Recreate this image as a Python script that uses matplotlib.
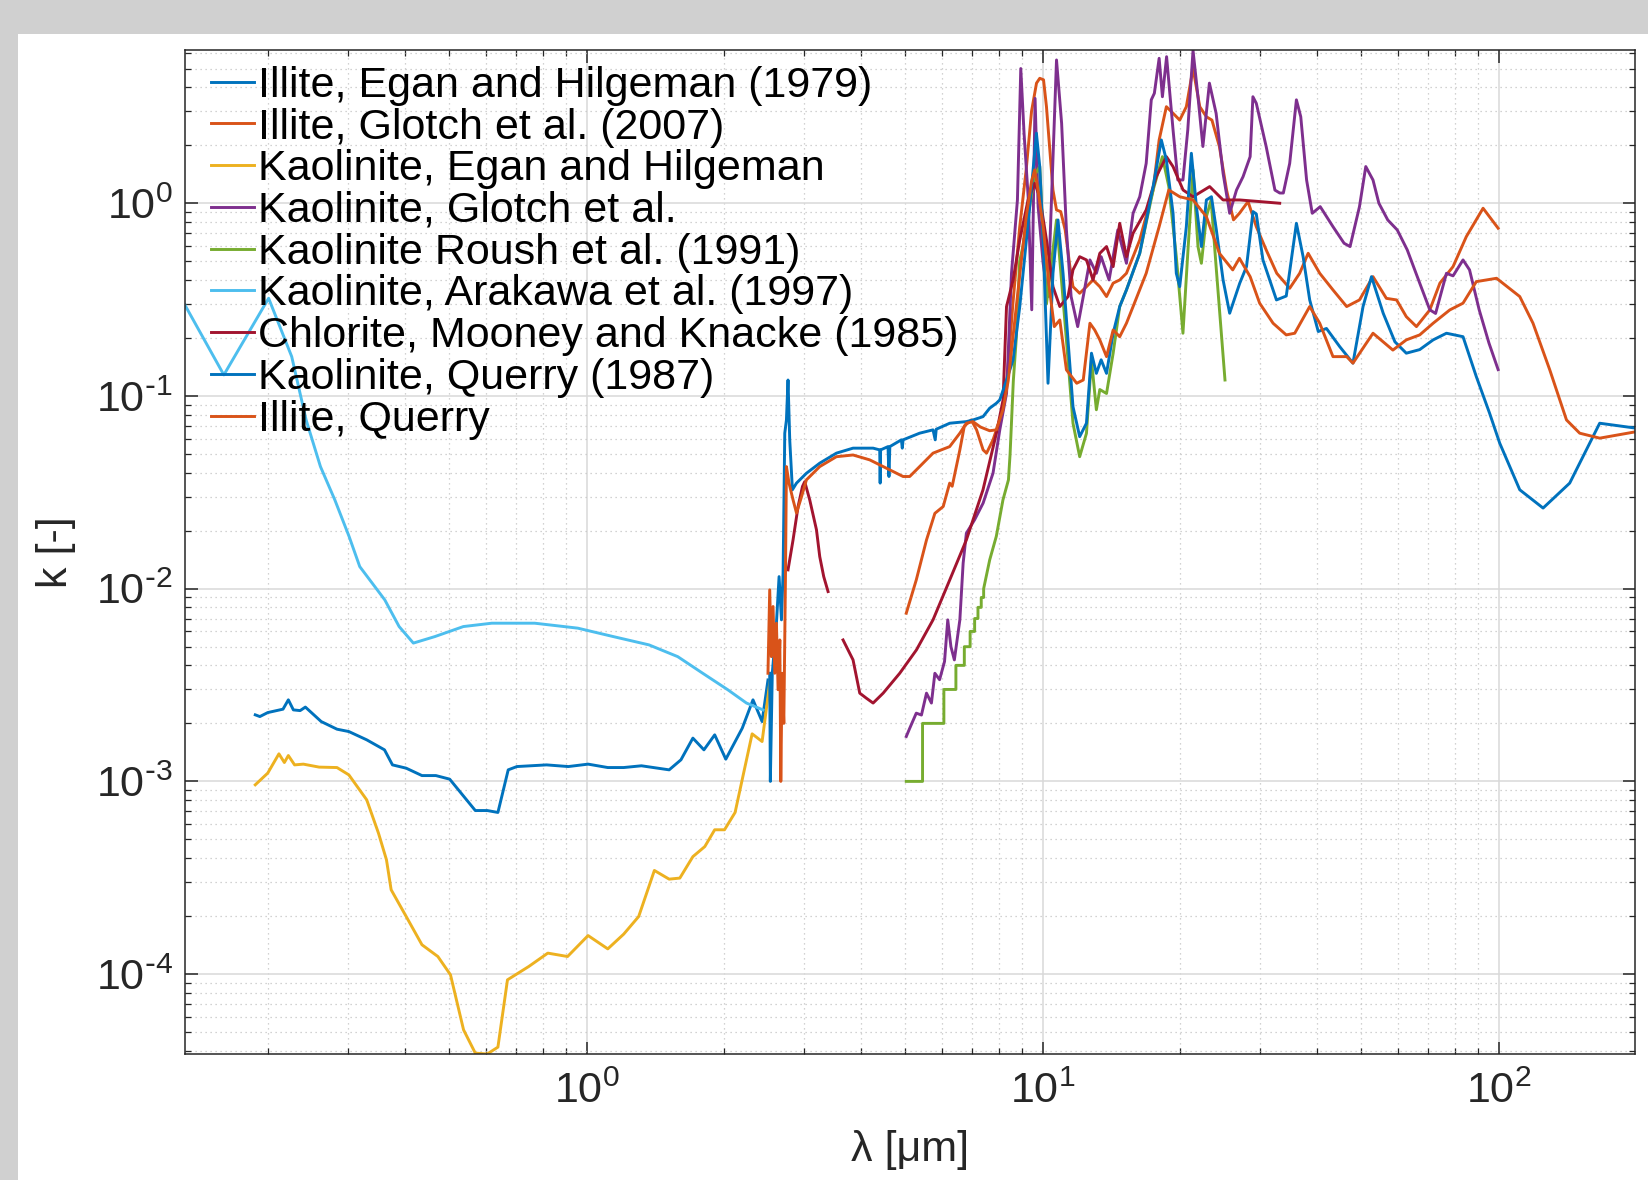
import matplotlib
matplotlib.use("Agg")
import matplotlib.pyplot as plt
import numpy as np
from matplotlib.patches import Rectangle
from matplotlib.ticker import LogLocator, NullFormatter, FuncFormatter

# (wavelength [um], k) pairs for each data set
illite_egan = [(0.1875, 2.215e-3), (0.1919, 2.17e-3), (0.1997, 2.276e-3), (0.2157, 2.37e-3),
               (0.2216, 2.65e-3), (0.2273, 2.35e-3), (0.2352, 2.33e-3), (0.2415, 2.43e-3),
               (0.2616, 2.044e-3), (0.2833, 1.866e-3), (0.3008, 1.814e-3), (0.3292, 1.643e-3),
               (0.3601, 1.458e-3), (0.3749, 1.218e-3), (0.4018, 1.171e-3), (0.4351, 1.072e-3),
               (0.4668, 1.072e-3), (0.5005, 1.027e-3), (0.5696, 7.06e-4), (0.605, 7.06e-4),
               (0.6385, 6.9e-4), (0.6726, 1.148e-3), (0.7028, 1.194e-3), (0.8162, 1.218e-3),
               (0.911, 1.194e-3), (1.0067, 1.229e-3), (1.112, 1.18e-3), (1.205, 1.18e-3),
               (1.318, 1.205e-3), (1.516, 1.148e-3), (1.609, 1.294e-3), (1.709, 1.677e-3),
               (1.807, 1.458e-3), (1.908, 1.744e-3), (2.018, 1.304e-3), (2.193, 1.889e-3),
               (2.315, 2.65e-3), (2.424, 2.044e-3), (2.497, 3.36e-3)]

illite_glotch = [(5.02, 0.00746), (5.28, 0.0111), (5.56, 0.0179), (5.80, 0.0246), (6.05, 0.0267),
                 (6.25, 0.0353), (6.33, 0.034), (6.58, 0.0525), (6.73, 0.0697), (6.97, 0.0751),
                 (7.16, 0.0667), (7.40, 0.0525), (7.53, 0.0505), (7.78, 0.0592), (8.05, 0.0751),
                 (8.33, 0.112), (8.6, 0.3), (8.9, 0.75), (9.2, 1.5), (9.45, 3.0), (9.69, 4.2),
                 (9.85, 4.45), (10.04, 4.37), (10.19, 3.17), (10.35, 1.97), (10.53, 1.17),
                 (10.72, 0.923), (10.95, 0.905), (11.2, 0.727), (11.47, 0.469), (11.65, 0.369),
                 (12.05, 0.341), (12.47, 0.369), (12.89, 0.40), (13.34, 0.369), (13.8, 0.328),
                 (14.27, 0.385), (14.75, 0.40), (15.26, 0.433), (15.78, 0.528), (16.32, 0.645),
                 (17.46, 1.17), (18.0, 2.13), (18.67, 3.17), (19.31, 2.93), (19.97, 2.70),
                 (20.65, 3.17), (21.36, 5.01), (22.1, 3.17), (22.85, 2.81), (23.5, 2.70),
                 (24.4, 1.97), (25.3, 1.17), (26.2, 0.82), (27.0, 0.887), (28.2, 1.02),
                 (29.4, 0.756), (30.9, 0.573), (32.6, 0.433), (34.8, 0.362), (36.6, 0.433),
                 (38.2, 0.55), (40.5, 0.433), (43.3, 0.355), (46.4, 0.291), (49.5, 0.315),
                 (53.0, 0.416), (56.7, 0.321), (59.7, 0.315), (62.7, 0.258), (66.0, 0.229),
                 (70.6, 0.2795), (74.3, 0.385), (79.4, 0.469), (84.9, 0.671), (92.4, 0.942),
                 (99.7, 0.742)]

kaolinite_egan = [(0.1875, 9.6e-4), (0.1997, 1.104e-3), (0.2113, 1.39e-3), (0.2172, 1.253e-3),
                  (0.2216, 1.362e-3), (0.2287, 1.218e-3), (0.2390, 1.229e-3), (0.2589, 1.186e-3),
                  (0.2833, 1.18e-3), (0.3008, 1.081e-3), (0.3292, 8.02e-4), (0.3493, 5.39e-4),
                  (0.3637, 3.92e-4), (0.3724, 2.74e-4), (0.4018, 1.99e-4), (0.4351, 1.42e-4),
                  (0.4715, 1.234e-4), (0.5025, 9.92e-5), (0.5368, 5.14e-5), (0.5696, 3.89e-5),
                  (0.605, 3.85e-5), (0.6385, 4.18e-5), (0.6701, 9.34e-5), (0.746, 1.095e-4),
                  (0.8214, 1.285e-4), (0.9076, 1.234e-4), (1.0067, 1.585e-4), (1.112, 1.352e-4),
                  (1.205, 1.612e-4), (1.2998, 1.99e-4), (1.407, 3.45e-4), (1.516, 3.11e-4),
                  (1.600, 3.15e-4), (1.709, 4.07e-4), (1.815, 4.59e-4), (1.908, 5.61e-4),
                  (2.005, 5.61e-4), (2.115, 6.9e-4), (2.305, 1.765e-3), (2.424, 1.61e-3),
                  (2.53, 3.5e-3)]

kaolinite_glotch = [(5.02, 0.00171), (5.11, 0.00189), (5.28, 0.00226), (5.42, 0.00221),
                    (5.56, 0.00287), (5.70, 0.00255), (5.80, 0.00364), (5.94, 0.00337),
                    (6.09, 0.00419), (6.19, 0.00689), (6.29, 0.005), (6.40, 0.00427),
                    (6.58, 0.00689), (6.69, 0.01356), (6.80, 0.0194), (7.09, 0.0228),
                    (7.40, 0.0278), (7.78, 0.0398), (8.05, 0.0667), (8.33, 0.1033), (8.54, 0.433),
                    (8.80, 1.04), (8.95, 5.0), (9.10, 2.3), (9.29, 1.08), (9.46, 0.28), (9.62, 3.5),
                    (9.77, 0.96), (10.02, 0.488), (10.27, 0.328), (10.72, 5.54), (11.0, 2.6),
                    (11.27, 0.727), (11.54, 0.328), (11.93, 0.229), (12.27, 0.328), (12.69, 0.508),
                    (13.11, 0.433), (13.43, 0.528), (13.98, 0.40), (14.61, 0.727), (15.26, 0.488),
                    (15.78, 0.887), (16.32, 1.081), (16.86, 1.61), (17.3, 3.44), (17.57, 3.72),
                    (18.0, 5.65), (18.3, 3.57), (18.69, 5.76), (19.31, 2.4), (19.78, 1.32),
                    (20.3, 1.32), (20.8, 2.4), (21.36, 6.2), (21.9, 3.57), (22.45, 1.97),
                    (23.2, 4.2), (24.0, 2.93), (24.86, 1.43), (25.7, 0.887), (26.6, 1.17),
                    (27.5, 1.374), (28.5, 1.745), (28.9, 3.57), (29.4, 3.3), (30.9, 1.97),
                    (32.3, 1.17), (33.1, 1.13), (33.7, 1.13), (34.8, 1.61), (36.0, 3.44),
                    (36.8, 2.81), (37.9, 1.32), (39.0, 0.887), (40.6, 0.96), (43.3, 0.756),
                    (45.8, 0.62), (47.2, 0.596), (49.5, 0.96), (51.1, 1.55), (53.0, 1.32),
                    (54.6, 1.0), (57.1, 0.819), (59.9, 0.727), (63.0, 0.573), (67.1, 0.385),
                    (70.6, 0.28), (72.7, 0.268), (76.8, 0.433), (79.4, 0.42), (83.5, 0.508),
                    (86.3, 0.451), (90.6, 0.28), (95.2, 0.188), (99.7, 0.137)]

kaolinite_roush = [(5.02, 0.001), (5.45, 0.001), (5.45, 0.002), (6.07, 0.002), (6.07, 0.003),
                   (6.45, 0.003), (6.45, 0.004), (6.73, 0.004), (6.73, 0.005), (6.93, 0.005),
                   (6.93, 0.006), (7.09, 0.006), (7.09, 0.007), (7.21, 0.007), (7.21, 0.008),
                   (7.33, 0.008), (7.33, 0.009), (7.42, 0.009), (7.42, 0.01), (7.65, 0.0141),
                   (7.91, 0.0187), (8.18, 0.0289), (8.41, 0.0367), (8.48, 0.05), (8.62, 0.12),
                   (8.75, 0.2), (8.90, 0.5), (9.05, 0.6), (9.36, 0.96), (9.6, 1.4), (9.85, 1.55),
                   (10.19, 0.3), (10.72, 0.819), (11.27, 0.195), (11.65, 0.0722), (12.05, 0.0484),
                   (12.47, 0.064), (12.79, 0.154), (13.11, 0.0848), (13.34, 0.108), (13.8, 0.103),
                   (14.27, 0.1667), (14.75, 0.291), (15.26, 0.355), (16.32, 0.55), (17.46, 1.17),
                   (18.3, 1.745), (18.9, 1.22), (19.63, 0.528), (20.3, 0.2116), (20.8, 0.55),
                   (21.36, 1.49), (21.9, 0.596), (22.28, 0.488), (22.85, 0.852), (23.4, 1.04),
                   (24.0, 0.469), (25.1, 0.121)]

kaolinite_arakawa = [(0.1314, 0.297), (0.160, 0.1286), (0.2006, 0.3214), (0.2254, 0.160),
                     (0.2424, 0.0751), (0.2606, 0.043), (0.2802, 0.0289), (0.3012, 0.01864),
                     (0.3178, 0.01302), (0.3606, 0.00875), (0.3877, 0.00636), (0.4166, 0.00522),
                     (0.4642, 0.00564), (0.5363, 0.00636), (0.619, 0.00662), (0.769, 0.00662),
                     (0.9556, 0.00624), (1.144, 0.00564), (1.369, 0.00511), (1.583, 0.00444),
                     (1.796, 0.00364), (2.038, 0.00299), (2.240, 0.00255), (2.435, 0.00235)]

chlorite_mooney = [(2.763, 0.01252), (2.834, 0.0179), (2.907, 0.0267), (2.972, 0.0339),
                   (3.006, 0.0359), (3.083, 0.0289), (3.19, 0.0202), (3.243, 0.01467),
                   (3.309, 0.01155), (3.382, 0.00966), (np.nan, np.nan),
                   (3.648, 0.00542), (3.837, 0.00427), (3.969, 0.00287), (4.106, 0.0027),
                   (4.246, 0.00255), (4.467, 0.00287), (4.857, 0.00364), (5.284, 0.00481),
                   (5.746, 0.00689), (6.252, 0.0111), (6.8, 0.0179), (7.396, 0.0326),
                   (7.914, 0.0641), (8.185, 0.0954), (8.328, 0.2907), (8.61, 0.40), (8.904, 0.645),
                   (9.286, 1.04), (9.6, 1.27), (9.85, 1.08), (10.19, 0.645), (10.53, 0.369),
                   (10.9, 0.291), (11.36, 0.328), (11.65, 0.451), (12.05, 0.528), (12.47, 0.508),
                   (12.89, 0.40), (13.34, 0.55), (13.8, 0.596), (14.27, 0.469), (14.75, 0.787),
                   (15.26, 0.528), (15.78, 0.699), (16.86, 0.923), (17.74, 1.374), (18.67, 1.745),
                   (19.31, 1.549), (20.31, 1.172), (21.36, 1.081), (23.23, 1.22), (24.86, 1.04),
                   (27.04, 1.04), (29.92, 1.02), (33.09, 1.0)]

kaolinite_querry = [(2.519, 0.00364), (2.527, 0.001), (2.552, 0.00364), (2.606, 0.00662),
                    (2.641, 0.01155), (2.673, 0.00689), (2.695, 0.01203), (2.718, 0.0641),
                    (2.741, 0.0751), (2.763, 0.121), (2.787, 0.0592), (2.825, 0.0326),
                    (2.884, 0.0353), (3.032, 0.0397), (3.243, 0.0448), (3.528, 0.0505),
                    (3.837, 0.0536), (4.246, 0.0536), (4.39, 0.0525), (4.40, 0.0353),
                    (4.41, 0.0525), (4.578, 0.0546), (4.60, 0.0382), (4.62, 0.0546),
                    (4.898, 0.0592), (4.92, 0.0536), (4.94, 0.0592), (5.37, 0.0641),
                    (5.746, 0.0667), (5.81, 0.0592), (5.84, 0.0672), (6.252, 0.0722),
                    (6.8, 0.0736), (7.035, 0.0751), (7.396, 0.0781), (7.65, 0.0864),
                    (7.914, 0.0917), (8.05, 0.0954), (8.33, 0.121), (8.61, 0.154), (8.904, 0.291),
                    (9.13, 0.528), (9.364, 0.96), (9.685, 2.31), (9.85, 1.55), (10.02, 0.645),
                    (10.27, 0.1164), (10.53, 0.433), (10.8, 0.819), (11.08, 0.433), (11.36, 0.195),
                    (11.65, 0.088), (12.05, 0.0615), (12.47, 0.0722), (12.79, 0.1667),
                    (13.11, 0.131), (13.43, 0.154), (13.8, 0.131), (14.27, 0.2116), (14.75, 0.291),
                    (15.26, 0.355), (16.32, 0.55), (17.46, 1.22), (18.2, 2.13), (18.67, 1.677),
                    (19.31, 0.887), (19.63, 0.433), (19.97, 0.369), (20.65, 0.756), (21.18, 1.817),
                    (21.73, 0.96), (22.28, 0.596), (22.85, 1.04), (23.44, 1.081), (24.03, 0.727),
                    (24.86, 0.40), (25.7, 0.2687), (27.04, 0.3845), (27.98, 0.469), (28.92, 0.905),
                    (29.4, 0.88), (30.4, 0.508), (32.55, 0.315), (34.2, 0.33), (36.0, 0.787),
                    (37.24, 0.528), (38.5, 0.315), (40.2, 0.216), (41.9, 0.224), (44.8, 0.1803),
                    (47.9, 0.148), (50.4, 0.291), (52.6, 0.416), (55.8, 0.2687), (59.2, 0.191),
                    (62.7, 0.1667), (67.1, 0.174), (71.8, 0.1954), (76.8, 0.2116), (83.5, 0.203),
                    (89.3, 0.126), (95.5, 0.0813), (100.5, 0.0569), (111.2, 0.0326),
                    (125.1, 0.0262), (143.1, 0.0353), (166.5, 0.0722), (200.5, 0.068)]

illite_querry = [(2.497, 0.00364), (2.519, 0.00986), (2.54, 0.00444), (2.562, 0.00808),
                 (2.584, 0.00364), (2.606, 0.00662), (2.628, 0.00299), (2.651, 0.00542),
                 (2.664, 0.001), (2.682, 0.00364), (2.705, 0.002), (2.728, 0.012),
                 (2.741, 0.043), (2.777, 0.0353), (2.834, 0.0289), (2.884, 0.0247),
                 (2.958, 0.030), (3.032, 0.0367), (3.243, 0.043), (3.528, 0.0484),
                 (3.837, 0.0494), (4.174, 0.0466), (4.54, 0.0422), (4.94, 0.0382),
                 (5.108, 0.0382), (5.37, 0.043), (5.746, 0.0505), (6.25, 0.0546), (6.58, 0.0641),
                 (6.8, 0.0722), (7.03, 0.0736), (7.3, 0.069), (7.65, 0.066), (7.91, 0.0667),
                 (8.18, 0.085), (8.4, 0.12), (8.6, 0.2), (8.9, 0.42), (9.2, 0.85), (9.45, 1.3),
                 (9.6, 1.49), (9.75, 1.2), (10.02, 0.756), (10.35, 0.355), (10.6, 0.229),
                 (10.9, 0.248), (11.27, 0.1366), (11.87, 0.1164), (12.27, 0.121), (12.69, 0.2384),
                 (13.0, 0.22), (13.34, 0.1954), (13.8, 0.160), (14.27, 0.22), (14.75, 0.203),
                 (15.26, 0.2384), (15.78, 0.291), (16.86, 0.433), (18.0, 0.756), (18.9, 1.172),
                 (19.97, 1.081), (21.36, 1.04), (22.85, 0.852), (24.4, 0.55), (26.1, 0.451),
                 (27.0, 0.518), (28.5, 0.416), (29.9, 0.303), (32.0, 0.2384), (34.2, 0.2074),
                 (35.7, 0.2116), (38.5, 0.291), (40.5, 0.2384), (43.3, 0.160), (46.4, 0.160),
                 (47.9, 0.148), (53.0, 0.2116), (58.6, 0.173), (62.7, 0.1954), (67.1, 0.2074),
                 (71.8, 0.2384), (78.1, 0.2795), (83.5, 0.303), (89.3, 0.392), (98.9, 0.408),
                 (111.2, 0.328), (118.9, 0.2384), (129.4, 0.1366), (140.8, 0.0751),
                 (150.5, 0.0641), (166.5, 0.0604), (200.5, 0.0653)]

series = [
    (illite_egan, "#0072BD", "Illite, Egan and Hilgeman (1979)"),
    (illite_glotch, "#D95319", "Illite, Glotch et al. (2007)"),
    (kaolinite_egan, "#EDB120", "Kaolinite, Egan and Hilgeman"),
    (kaolinite_glotch, "#7E2F8E", "Kaolinite, Glotch et al."),
    (kaolinite_roush, "#77AC30", "Kaolinite Roush et al. (1991)"),
    (kaolinite_arakawa, "#4DBEEE", "Kaolinite, Arakawa et al. (1997)"),
    (chlorite_mooney, "#A2142F", "Chlorite, Mooney and Knacke (1985)"),
    (kaolinite_querry, "#0072BD", "Kaolinite, Querry (1987)"),
    (illite_querry, "#D95319", "Illite, Querry"),
]

plt.rcParams['font.family'] = ['Liberation Sans', 'DejaVu Sans']
plt.rcParams['axes.unicode_minus'] = False


def decade_label(v, pos):
    n = int(round(np.log10(v)))
    if n < 0:
        return r'$\mathdefault{10^{\text{-}%d}}$' % (-n)
    return r'$\mathdefault{10^{%d}}$' % n


fig = plt.figure(figsize=(16.48, 11.8), dpi=100, facecolor='#d0d0d0')
fig.patches.append(Rectangle((18 / 1648, 0), 1, 1 - 34 / 1180, transform=fig.transFigure,
                             facecolor='white', edgecolor='none', zorder=-1))
ax = fig.add_axes([185 / 1648, 1 - 1054 / 1180, 1450 / 1648, 1004 / 1180])

for data, color, label in series:
    arr = np.array(data, dtype=float)
    ax.plot(arr[:, 0], arr[:, 1], color=color, lw=2.1, label=label)

ax.set_xscale('log')
ax.set_yscale('log')
ax.set_xlim(0.1315, 199)
ax.set_ylim(3.85e-5, 6.24)

for axis in (ax.xaxis, ax.yaxis):
    axis.set_major_locator(LogLocator(base=10, numticks=12))
    axis.set_minor_locator(LogLocator(base=10, subs=np.arange(2, 10), numticks=40))
    axis.set_major_formatter(FuncFormatter(decade_label))
    axis.set_minor_formatter(NullFormatter())

ax.tick_params(which='both', direction='in', top=True, right=True,
               labelsize=31, colors='#262626')
ax.tick_params(which='major', length=9, width=1.1, pad=9)
ax.tick_params(axis='x', which='major', pad=13)
ax.tick_params(which='minor', length=4.5, width=0.9)
ax.grid(which='major', color='#d9d9d9', lw=1.1, ls='-')
ax.grid(which='minor', color='#c4c4c4', lw=0.9, ls=(0, (1, 3)))
ax.set_axisbelow(True)
for sp in ax.spines.values():
    sp.set_color('#262626')
    sp.set_linewidth(1.1)

ax.set_xlabel('λ [μm]', fontsize=31, color='#262626')
ax.set_ylabel('k [-]', fontsize=31, color='#262626')
ax.xaxis.set_label_coords(0.5, -0.0757)
ax.yaxis.set_label_coords(-0.0755, 0.5)

ax.legend(loc='upper left', frameon=False, fontsize=31, handlelength=1.0,
          handletextpad=0.1, labelspacing=0.04, borderpad=0.6, borderaxespad=0,
          bbox_to_anchor=(0, 1.010))

fig.savefig('out.png', dpi=100, facecolor=fig.get_facecolor())
